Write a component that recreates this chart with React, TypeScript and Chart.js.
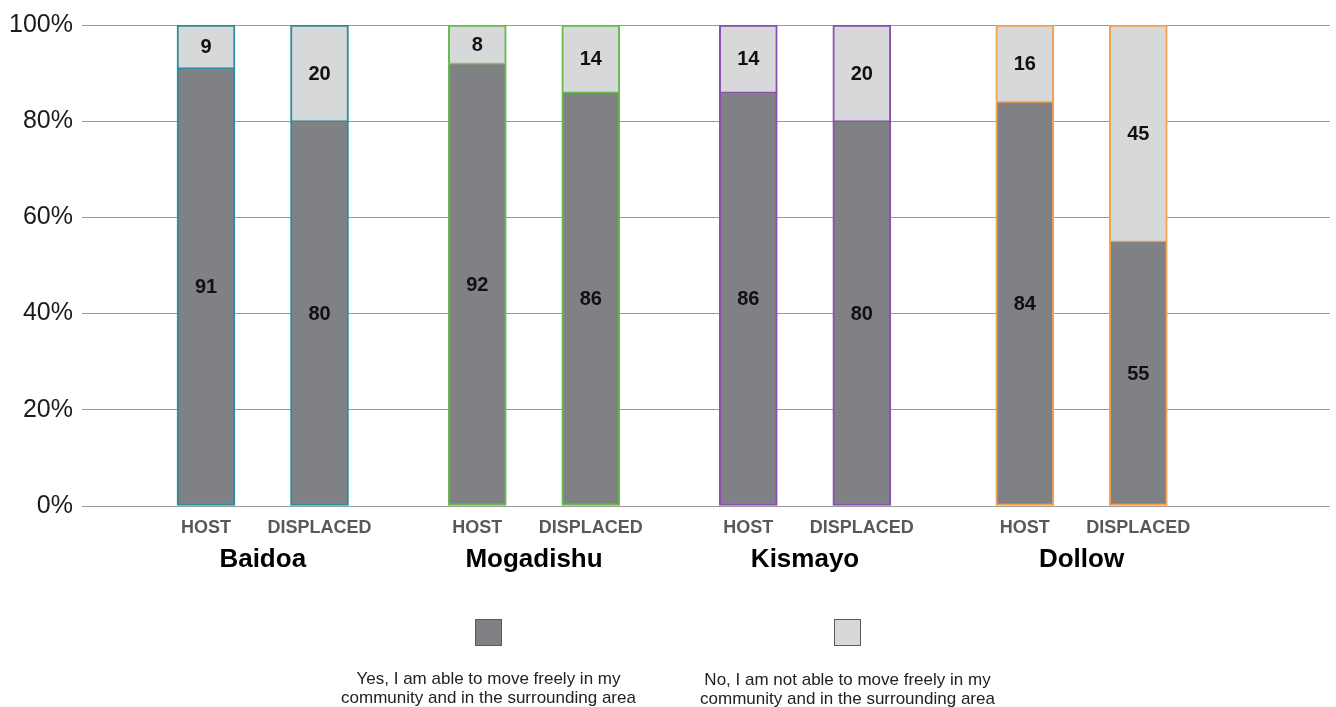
import React, { useEffect, useRef } from "react";
import { Chart, registerables } from "chart.js";

Chart.register(...registerables);

// ---------- data ----------
const cities = ["Baidoa", "Mogadishu", "Kismayo", "Dollow"];
const barLabels = ["HOST", "DISPLACED", "HOST", "DISPLACED", "HOST", "DISPLACED", "HOST", "DISPLACED"];
const yesValues = [91, 80, 92, 86, 86, 80, 84, 55];
const noValues = [9, 20, 8, 14, 14, 20, 16, 45];
const yTicks = [0, 20, 40, 60, 80, 100];
const yesLegend = ["Yes, I am able to move freely in my", "community and in the surrounding area"];
const noLegend = ["No, I am not able to move freely in my", "community and in the surrounding area"];

// ---------- layout / style ----------
const FONT = '"Liberation Sans", Arial, Helvetica, sans-serif';
const GROUP_START = [0, 2.39, 4.778, 7.214];
const barPos = GROUP_START.flatMap((g) => [g, g + 1]);
const cityPos = GROUP_START.map((g) => g + 0.5);
const X_MIN = -1.0925;
const X_MAX = 9.903;
const cityColors = ["#2b8c9b", "#62bb4a", "#8a4fae", "#f2a050"];
const barBorders = cityColors.flatMap((c) => [c, c]);
const YES_COLOR = "#808184";
const NO_COLOR = "#d7d8da";

const valueLabels = {
  id: "valueLabels",
  afterDatasetsDraw(chart: any) {
    const ctx = chart.ctx;
    ctx.save();
    ctx.font = `bold 20px ${FONT}`;
    ctx.fillStyle = "#111";
    ctx.textAlign = "center";
    ctx.textBaseline = "middle";
    chart.data.datasets.forEach((ds: any, di: number) => {
      const meta = chart.getDatasetMeta(di);
      meta.data.forEach((el: any, i: number) => {
        const v = ds.data[i].y;
        ctx.fillText(String(v), el.x, (el.y + el.base) / 2 + 1);
      });
    });
    ctx.restore();
  },
};

const boxLegend = {
  id: "boxLegend",
  afterDraw(chart: any) {
    const ctx = chart.ctx;
    const cx = chart.width / 2;
    const offs = [-179.5, 179.5];
    const lines = [yesLegend, noLegend];
    ctx.save();
    chart.data.datasets.forEach((ds: any, i: number) => {
      const x = cx + offs[i];
      const top = 619;
      ctx.fillStyle = ds.backgroundColor;
      ctx.fillRect(x - 13.5, top, 27, 27);
      ctx.strokeStyle = "#5a5a5a";
      ctx.lineWidth = 1;
      ctx.strokeRect(x - 13, top + 0.5, 26, 26);
      ctx.fillStyle = "#222";
      ctx.font = `17px ${FONT}`;
      ctx.textAlign = "center";
      ctx.textBaseline = "alphabetic";
      lines[i].forEach((t, li) => {
        ctx.fillText(t, x, 683.5 + i * 1 + li * 19.5);
      });
    });
    ctx.restore();
  },
};

export default function App() {
  const ref = useRef<HTMLCanvasElement | null>(null);

  useEffect(() => {
    if (!ref.current) return;
    Chart.defaults.font.family = FONT;
    const chart = new Chart(ref.current, {
      type: "bar",
      data: {
        datasets: [
          {
            label: yesLegend.join(" "),
            data: barPos.map((x, i) => ({ x, y: yesValues[i] })),
            backgroundColor: YES_COLOR,
            borderColor: barBorders,
            borderWidth: { left: 2, right: 2, bottom: 2, top: 1 },
            borderSkipped: false,
            barThickness: 58,
          },
          {
            label: noLegend.join(" "),
            data: barPos.map((x, i) => ({ x, y: noValues[i] })),
            backgroundColor: NO_COLOR,
            borderColor: barBorders,
            borderWidth: { left: 2, right: 2, bottom: 1, top: 2 },
            borderSkipped: false,
            barThickness: 58,
          },
        ] as any,
      },
      options: {
        animation: false,
        responsive: true,
        maintainAspectRatio: false,
        layout: { padding: { top: 25, right: 6, bottom: 123, left: 0 } },
        plugins: { legend: { display: false }, tooltip: { enabled: false } },
        scales: {
          x: {
            type: "linear",
            position: "bottom",
            weight: 0,
            stacked: true,
            offset: false,
            min: X_MIN,
            max: X_MAX,
            grid: { display: false, drawTicks: false, offset: false },
            border: { display: false },
            afterBuildTicks: (s: any) => {
              s.ticks = barPos.map((v) => ({ value: v }));
            },
            ticks: {
              autoSkip: false,
              maxRotation: 0,
              padding: 11,
              color: "#595959",
              font: { family: FONT, size: 18, weight: "bold" },
              callback: (_v: any, i: number) => barLabels[i],
            },
            afterFit: (s: any) => {
              s.height = 34;
            },
          } as any,
          x2: {
            type: "linear",
            position: "bottom",
            weight: 1,
            offset: false,
            min: X_MIN,
            max: X_MAX,
            grid: { display: false, drawTicks: false, offset: false },
            border: { display: false },
            afterBuildTicks: (s: any) => {
              s.ticks = cityPos.map((v) => ({ value: v }));
            },
            ticks: {
              autoSkip: false,
              maxRotation: 0,
              padding: 4,
              color: "#000",
              font: { family: FONT, size: 26, weight: "bold" },
              callback: (_v: any, i: number) => cities[i],
            },
            afterFit: (s: any) => {
              s.height = 44;
            },
          } as any,
          y: {
            stacked: true,
            min: 0,
            max: 100,
            afterBuildTicks: (s: any) => {
              s.ticks = yTicks.map((v) => ({ value: v }));
            },
            grid: { color: "#9a9a9a", lineWidth: 1, drawTicks: false },
            border: { display: false },
            ticks: {
              padding: 9,
              color: "#1a1a1a",
              font: { family: FONT, size: 25 },
              callback: (v: any) => `${v}%`,
            },
            afterFit: (s: any) => {
              s.width = 82;
            },
          } as any,
        },
      },
      plugins: [valueLabels, boxLegend],
    });
    return () => chart.destroy();
  }, []);

  return (
    <div style={{ position: "absolute", left: 0, top: 0, width: 1336, height: 707 }}>
      <canvas ref={ref} />
    </div>
  );
}
